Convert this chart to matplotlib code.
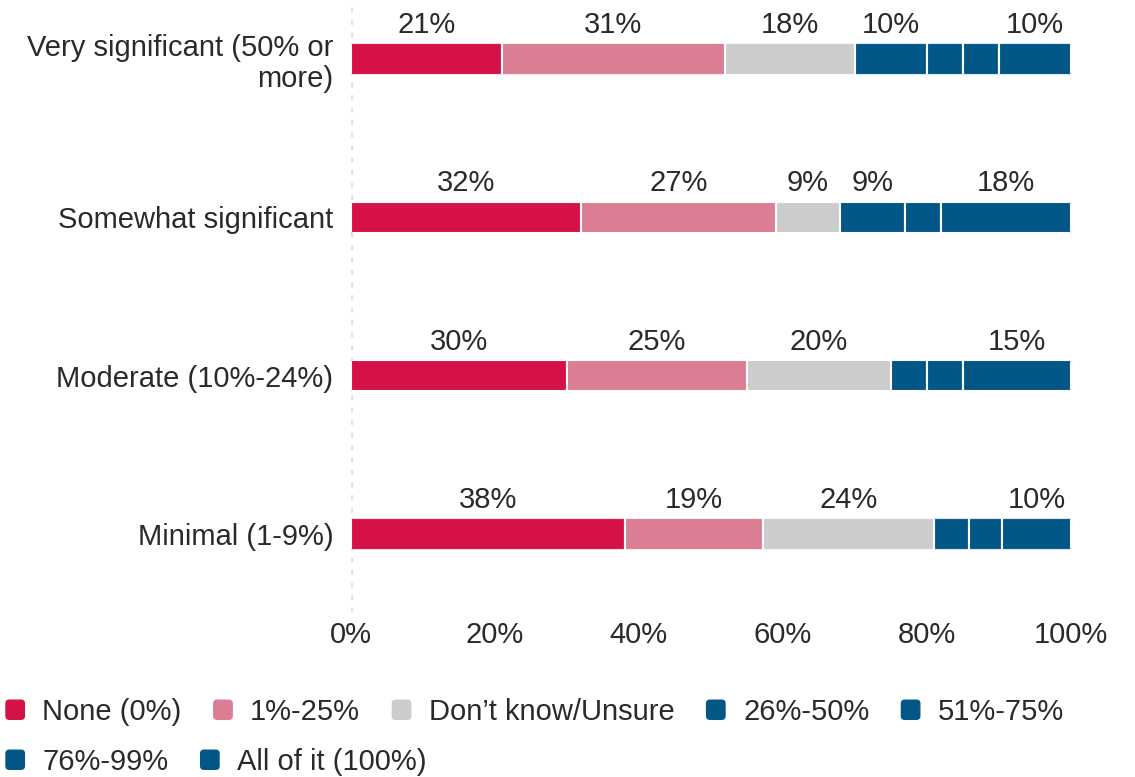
import matplotlib
matplotlib.use("Agg")
import matplotlib.pyplot as plt
import matplotlib.patches as mpatches
from matplotlib.patches import FancyBboxPatch
from matplotlib.legend_handler import HandlerPatch

plt.rcParams['font.family'] = ['Liberation Sans', 'DejaVu Sans']

categories = ["Very significant (50% or\nmore)", "Somewhat significant",
              "Moderate (10%-24%)", "Minimal (1-9%)"]
series_names = ["None (0%)", "1%-25%", "Don\u2019t know/Unsure", "26%-50%",
                "51%-75%", "76%-99%", "All of it (100%)"]
none_0 = [21, 32, 30, 38.1]
pct_1_25 = [31, 27, 25, 19.2]
dont_know = [18, 9, 20, 23.7]
pct_26_50 = [10, 9, 5, 4.8]
pct_51_75 = [5, 5, 5, 4.6]
pct_76_99 = [5, 0, 0, 0]
all_of_it = [10, 18, 15, 9.6]
x_ticks = [0, 20, 40, 60, 80, 100]
x_tick_labels = ["0%", "20%", "40%", "60%", "80%", "100%"]

series = [none_0, pct_1_25, dont_know, pct_26_50, pct_51_75, pct_76_99, all_of_it]
colors = ["#d41245", "#db7d93", "#cccccc", "#035787", "#035787", "#035787", "#035787"]
text_color = "#2a2a2a"
FS = 21

W, H = 1135, 777
fig = plt.figure(figsize=(W / 100, H / 100), dpi=100)
ax_left, ax_right, ax_top, ax_bottom = 350.5, 1071, 0, 612
ax = fig.add_axes([ax_left / W, 1 - ax_bottom / H, (ax_right - ax_left) / W, (ax_bottom - ax_top) / H])

ypos = list(range(len(categories)))
bar_h = 0.2
ax.set_xlim(0, 100)
ylim_bottom, ylim_top = 3 + 78 / 158.3, -59 / 158.3
ax.set_ylim(ylim_bottom, ylim_top)

# rounded-corner clip per row
x_per_px = 100 / (ax_right - ax_left)
y_per_px = (ylim_bottom - ylim_top) / (ax_bottom - ax_top)
r_px = 3.5
r_x = r_px * x_per_px
aspect = (r_px * y_per_px) / r_x

lefts = [0.0] * len(categories)
row_totals = [sum(s[i] for s in series) for i in range(len(categories))]
clips = []
for i, y in enumerate(ypos):
    clip = FancyBboxPatch((0, y - bar_h / 2), row_totals[i], bar_h,
                          boxstyle=f"round,pad=0,rounding_size={r_x}",
                          mutation_aspect=aspect, transform=ax.transData,
                          facecolor='none', edgecolor='none')
    clips.append(clip)

for vals, col in zip(series, colors):
    for i, (y, v) in enumerate(zip(ypos, vals)):
        if v <= 0:
            continue
        bars = ax.barh(y, v, left=lefts[i], height=bar_h, color=col,
                       edgecolor='white', linewidth=1.5, zorder=2)
        for b in bars:
            b.set_clip_path(clips[i])
        if v >= 7:
            ax.annotate(f"{v:.0f}%", xy=(lefts[i] + v / 2, y - bar_h / 2),
                        xytext=(0, 3), textcoords='offset points',
                        ha='center', va='bottom', fontsize=FS, color=text_color)
        lefts[i] += v

ax.axvline(0, color='#e2e2e2', lw=2.5, linestyle=(0, (1.4, 2.2)), zorder=0)

ax.set_yticks(ypos)
ax.set_yticklabels(categories, fontsize=FS, color=text_color)
for lbl in ax.get_yticklabels():
    lbl.set_linespacing(1.15)
ax.set_xticks(x_ticks)
ax.set_xticklabels(x_tick_labels, fontsize=FS, color=text_color)
ax.tick_params(axis='y', length=0, pad=12.5)
ax.tick_params(axis='x', length=0, pad=6.5)
for sp in ax.spines.values():
    sp.set_visible(False)


def make_box(legend, orig_handle, xdescent, ydescent, width, height, fontsize):
    return FancyBboxPatch((-xdescent, -ydescent), width, height,
                          boxstyle=f"round,pad=0,rounding_size={width * 0.18}")


handles = [mpatches.Patch(color=c) for c in colors]
hmap = {mpatches.Patch: HandlerPatch(patch_func=make_box)}
common = dict(frameon=False, handlelength=0.63, handleheight=0.63,
              handletextpad=0.62, columnspacing=1.1, borderaxespad=0,
              borderpad=0, fontsize=FS, handler_map=hmap, labelcolor=text_color)
fig.legend(handles[:5], series_names[:5], loc='center left',
           bbox_to_anchor=(6 / W, 1 - 712 / H), ncol=5, **common)
fig.legend(handles[5:], series_names[5:], loc='center left',
           bbox_to_anchor=(6 / W, 1 - 762 / H), ncol=2, **common)

fig.savefig("out.png", dpi=100)
